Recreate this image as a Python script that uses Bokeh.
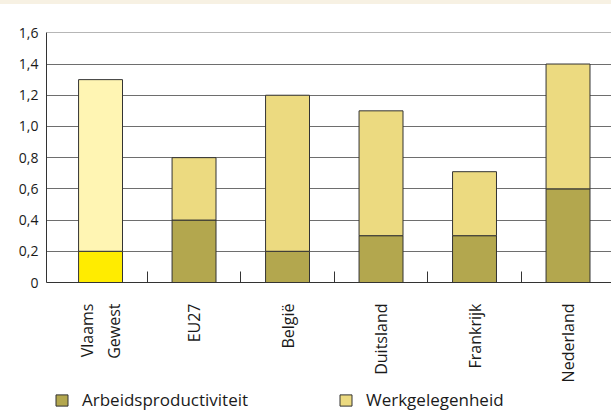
from math import pi
from bokeh.plotting import figure
from bokeh.layouts import column
from bokeh.models import Range1d, FixedTicker, Legend, LegendItem, ColumnDataSource, Div
from bokeh.embed import file_html
from bokeh.resources import INLINE

# ---- data ----
regions = ["Vlaams\nGewest", "EU27", "België", "Duitsland", "Frankrijk", "Nederland"]
arbeidsproductiviteit = [0.2, 0.4, 0.2, 0.3, 0.3, 0.6]
werkgelegenheid = [1.1, 0.4, 1.0, 0.8, 0.41, 0.8]
arbeid_colors = ["#ffec00", "#b3a74e", "#b3a74e", "#b3a74e", "#b3a74e", "#b3a74e"]
werk_colors = ["#fff5b3", "#ecda80", "#ecda80", "#ecda80", "#ecda80", "#ecda80"]
y_ticks = [0, 0.2, 0.4, 0.6, 0.8, 1.0, 1.2, 1.4, 1.6]
y_tick_labels = ["0", "0,2", "0,4", "0,6", "0,8", "1,0", "1,2", "1,4", "1,6"]
series_names = ["Arbeidsproductiviteit", "Werkgelegenheid"]

FONT = "Open Sans"
TEXT = "#1a1a1a"
LINE = "#333333"

x = [i + 0.5 for i in range(len(regions))]
top_total = [a + w for a, w in zip(arbeidsproductiviteit, werkgelegenheid)]
src = ColumnDataSource(dict(x=x, a=arbeidsproductiviteit, t=top_total,
                            ca=arbeid_colors, cw=werk_colors))

band = Div(width=611, height=4, margin=0,
           styles={"background-color": "#f7f1e3"})

p = figure(width=611, height=381, output_backend="svg", toolbar_location=None,
           x_range=Range1d(-0.078, 5.965), y_range=Range1d(0, 1.602),
           min_border_left=46, min_border_right=0, min_border_top=28,
           min_border_bottom=103, margin=0)
p.outline_line_color = None
p.background_fill_color = "white"
p.border_fill_color = "white"

bar_kw = dict(x="x", width=0.47, source=src, line_color=LINE, line_width=1)
r1 = p.vbar(bottom=0, top="a", fill_color="ca", **bar_kw)
r2 = p.vbar(bottom="a", top="t", fill_color="cw", **bar_kw)

# grid
p.xgrid.grid_line_color = None
p.ygrid.ticker = FixedTicker(ticks=y_ticks)
p.ygrid.grid_line_color = "#6e6e6e"
p.ygrid.grid_line_width = 1

# y axis
ya = p.yaxis[0]
ya.ticker = FixedTicker(ticks=y_ticks)
ya.major_label_overrides = {t: l for t, l in zip(y_ticks, y_tick_labels)}
ya.major_tick_in = 0
ya.major_tick_out = 0
ya.minor_tick_line_color = None
ya.axis_line_color = LINE
ya.major_label_text_font = FONT
ya.major_label_text_font_size = "14px"
ya.major_label_text_color = TEXT
ya.major_label_standoff = 8

# x axis
xa = p.xaxis[0]
xa.ticker = FixedTicker(ticks=x, minor_ticks=list(range(1, len(regions))))
xa.major_label_overrides = {xi: r for xi, r in zip(x, regions)}
xa.major_tick_line_color = None
xa.minor_tick_in = 11
xa.minor_tick_out = 0
xa.minor_tick_line_color = LINE
xa.axis_line_color = LINE
xa.major_label_orientation = pi / 2
xa.major_label_text_font = FONT
xa.major_label_text_font_size = "16px"
xa.major_label_text_color = TEXT
xa.major_label_standoff = 15

# legend strip: a separate small figure, same data, bars kept below its view
lf = figure(width=611, height=30, output_backend="svg", toolbar_location=None,
            x_axis_type=None, y_axis_type=None,
            x_range=Range1d(-0.078, 5.965), y_range=Range1d(10, 11),
            min_border_left=46, min_border_right=0,
            min_border_top=0, min_border_bottom=0, margin=0)
lf.grid.visible = False
lf.outline_line_color = None
lf.border_fill_color = "white"
l1 = lf.vbar(bottom=0, top="a", fill_color="ca", **bar_kw)
l2 = lf.vbar(bottom="a", top="t", fill_color="cw", **bar_kw)

lg = Legend(items=[LegendItem(label=series_names[0], renderers=[l1], index=1),
                   LegendItem(label=series_names[1], renderers=[l2], index=1)],
            orientation="horizontal", location=(8, 4))
lg.border_line_color = None
lg.background_fill_alpha = 0
lg.padding = 0
lg.margin = 0
lg.spacing = 0
lg.glyph_width = 15
lg.glyph_height = 14
lg.label_height = 14
lg.label_width = 256
lg.label_standoff = 13
lg.label_text_font = FONT
lg.label_text_font_size = "17px"
lg.label_text_color = TEXT
lg.label_text_baseline = "middle"
lf.add_layout(lg, "center")

open("out.html", "w").write(file_html(column(band, p, lf, spacing=0), INLINE))
